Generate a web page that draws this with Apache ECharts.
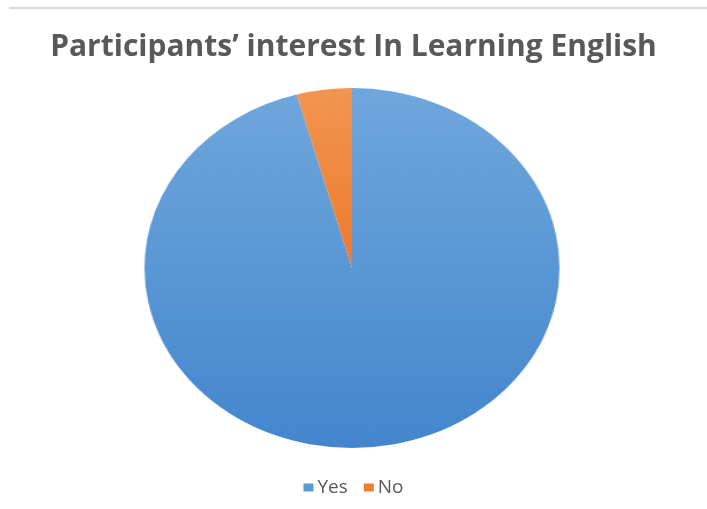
<!DOCTYPE html>
<html>
<head>
<meta charset="utf-8">
<script src="https://cdn.jsdelivr.net/npm/echarts@6/dist/echarts.min.js"></script>
<style>
  html, body { margin: 0; padding: 0; background: #fff; }
  #frame { position: relative; width: 707px; height: 509px; overflow: hidden; }
  #base { position: absolute; left: 0; top: 0; width: 707px; height: 509px; }
  /* the pie is drawn round and stretched sideways into an oval */
  #pie { position: absolute; left: 172px; top: 88px; width: 360px; height: 360px;
         transform: scaleX(1.153); transform-origin: 50% 50%; }
</style>
</head>
<body>
<div id="frame">
  <div id="base"></div>
  <div id="pie"></div>
</div>
<script>
const titleText = 'Participants’ interest In Learning English';
const categories = ['Yes', 'No'];
const shares = [95.7, 4.3];
const colorsTop = ['#70a7dc', '#f29552'];
const colorsBottom = ['#4386cd', '#ed7a2c'];
const legendColors = ['#5b9bd5', '#ed7d31'];

const pieData = categories.map((name, i) => ({
  name: name,
  value: shares[i],
  itemStyle: {
    color: new echarts.graphic.LinearGradient(0, 0, 0, 1, [
      { offset: 0, color: colorsTop[i] },
      { offset: 1, color: colorsBottom[i] }
    ])
  }
}));

// title, rule line and legend
const base = echarts.init(document.getElementById('base'), null, { renderer: 'canvas' });
base.setOption({
  animation: false,
  title: {
    text: titleText,
    left: 'center',
    top: 27,
    textStyle: { fontFamily: 'Open Sans', fontWeight: 'bold', fontSize: 30, color: '#595959' }
  },
  graphic: [{
    type: 'rect',
    shape: { x: 9, y: 7, width: 698, height: 2 },
    style: { fill: '#d9d9d9' }
  }],
  legend: {
    top: 473,
    left: 'center',
    icon: 'rect',
    itemWidth: 10,
    itemHeight: 8,
    itemGap: 16,
    textStyle: { fontFamily: 'Open Sans', fontSize: 19, color: '#595959', padding: [0, 0, 0, -1] },
    data: categories.map((name, i) => ({ name: name, itemStyle: { color: legendColors[i] } }))
  },
  series: [{
    type: 'pie',
    radius: [0, 0],
    silent: true,
    label: { show: false },
    labelLine: { show: false },
    data: categories.map((name, i) => ({ name: name, value: shares[i], itemStyle: { color: legendColors[i] } }))
  }]
});

// the pie itself
const pie = echarts.init(document.getElementById('pie'), null, { renderer: 'canvas' });
pie.setOption({
  animation: false,
  series: [{
    type: 'pie',
    center: ['50%', '50%'],
    radius: ['0%', '100%'],
    startAngle: 90,
    clockwise: true,
    label: { show: false },
    labelLine: { show: false },
    itemStyle: { borderWidth: 0 },
    emphasis: { disabled: true },
    data: pieData
  }]
});
</script>
</body>
</html>
